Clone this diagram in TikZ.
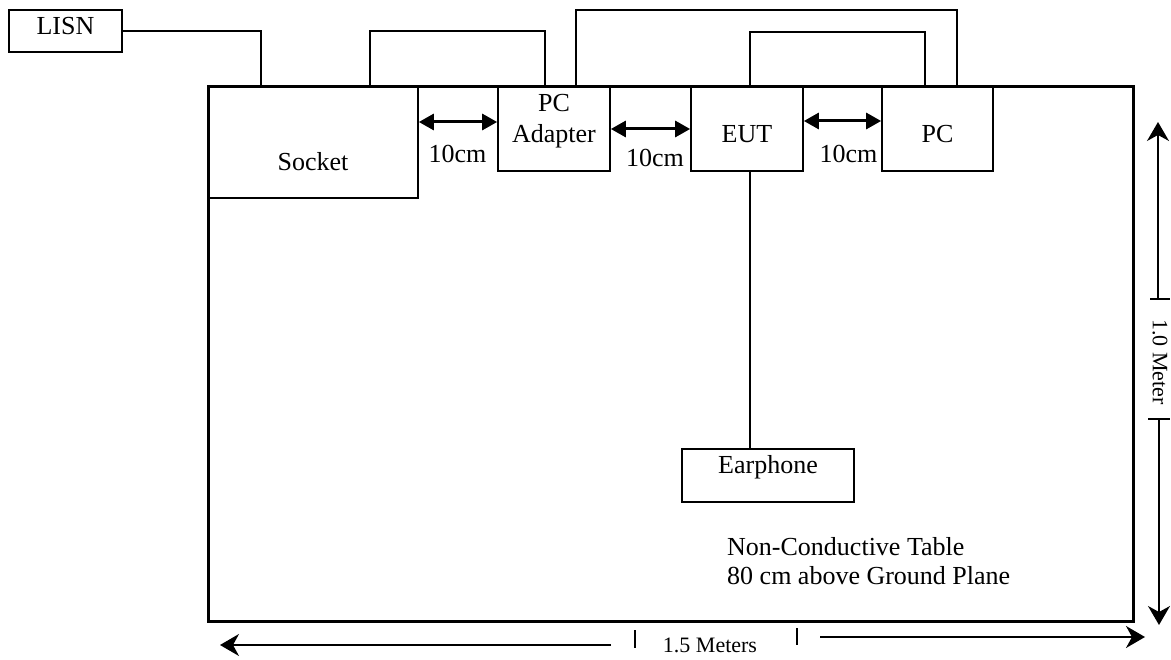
\documentclass[tikz,border=0pt]{standalone}
\usepackage{fontspec}
\setmainfont{Liberation Serif}
\usetikzlibrary{arrows.meta}
\begin{document}
\begin{tikzpicture}[x=1pt,y=-1pt,
  box/.style={draw, line width=1.7pt, inner sep=0pt},
  lbl/.style={inner sep=0pt, anchor=base, font=\fontsize{26}{31}\selectfont},
  wire/.style={line width=1.5pt},
  gap/.style={line width=3pt, {Triangle[length=15pt,width=16pt]}-{Triangle[length=15pt,width=16pt]}},
  dimline/.style={line width=1.5pt, -{Stealth[length=19pt,width=22pt,inset=6pt]}},
  dimtick/.style={line width=1.5pt},
  dimtxt/.style={inner sep=0pt, font=\fontsize{22}{24}\selectfont}]
\useasboundingbox (0,0) rectangle (1171,660);

% boxes
\node[box, minimum width=113pt, minimum height=42pt] (lisn) at (65.5,31) {};
\node[box, minimum width=210pt, minimum height=111pt] (socket) at (313,142.5) {};
\node[box, minimum width=112pt, minimum height=84pt] (pcad) at (554,129) {};
\node[box, minimum width=112pt, minimum height=84pt] (eut) at (747,129) {};
\node[box, minimum width=111pt, minimum height=84pt] (pc) at (937.5,129) {};
\node[box, minimum width=172pt, minimum height=53pt] (earph) at (768,475.5) {};
\node[draw, line width=3pt, inner sep=0pt, minimum width=925pt, minimum height=534pt] (table) at (670.5,354) {};

% labels
\node[lbl] (tlisn) at (65.5,35) {LISN};
\node[lbl] (tsocket) at (313,171) {Socket};
\node[lbl] (tpc1) at (554,112) {PC};
\node[lbl] (tpc2) at (554,143) {Adapter};
\node[lbl] (teut) at (747,143) {EUT};
\node[lbl] (tpc) at (937.5,143) {PC};
\node[lbl] (tear) at (768,474) {Earphone};
\node[lbl] (g1) at (457.5,163) {10cm};
\node[lbl] (g2) at (655,167) {10cm};
\node[lbl] (g3) at (848.5,163) {10cm};
\node[lbl, anchor=base west] (nc1) at (727,555) {Non-Conductive Table};
\node[lbl, anchor=base west] (nc2) at (727,584) {80 cm above Ground Plane};

% wires
\coordinate (w1) at (261,87);
\draw[wire] (lisn.east) -| (w1);
\draw[wire] ([xshift=57pt]socket.north) -- ++(0,-55) -| ([xshift=-9pt]pcad.north);
\draw[wire] ([xshift=22pt]pcad.north) -- ++(0,-76) -| ([xshift=19.5pt]pc.north);
\draw[wire] ([xshift=3pt]eut.north) -- ++(0,-54) -| ([xshift=-12.5pt]pc.north);
\draw[wire] ([xshift=3pt]eut.south) -- ([xshift=3pt]eut.south |- earph.north);

% 10cm gaps
\coordinate (ya) at (0,122);
\coordinate (yb) at (0,129);
\coordinate (yc) at (0,121);
\draw[gap] (socket.east |- ya) -- (pcad.west |- ya);
\draw[gap] (pcad.east |- yb) -- (eut.west |- yb);
\draw[gap] (eut.east |- yc) -- (pc.west |- yc);

% vertical dimension
\coordinate (vt) at (1158,299);
\coordinate (vtip1) at (1158,122);
\coordinate (vb) at (1159,419);
\coordinate (vtip2) at (1159,625);
\draw[dimline] (vt) -- (vtip1);
\draw[dimline] (vb) -- (vtip2);
\draw[dimtick] (1150,299) -- (1170,299);
\draw[dimtick] (1148,419) -- (1170,419);
\node[dimtxt, rotate=-90] (vtxt) at (1160,362) {1.0 Meter};

% horizontal dimension
\coordinate (hl) at (611,645);
\coordinate (htip1) at (220,645);
\coordinate (hr) at (820,637);
\coordinate (htip2) at (1145,637);
\draw[dimline] (hl) -- (htip1);
\draw[dimline] (hr) -- (htip2);
\draw[dimtick] (635,630) -- (635,648);
\draw[dimtick] (797,628) -- (797,645);
\node[dimtxt, anchor=base] (htxt) at (710,652) {1.5 Meters};
\end{tikzpicture}
\end{document}
